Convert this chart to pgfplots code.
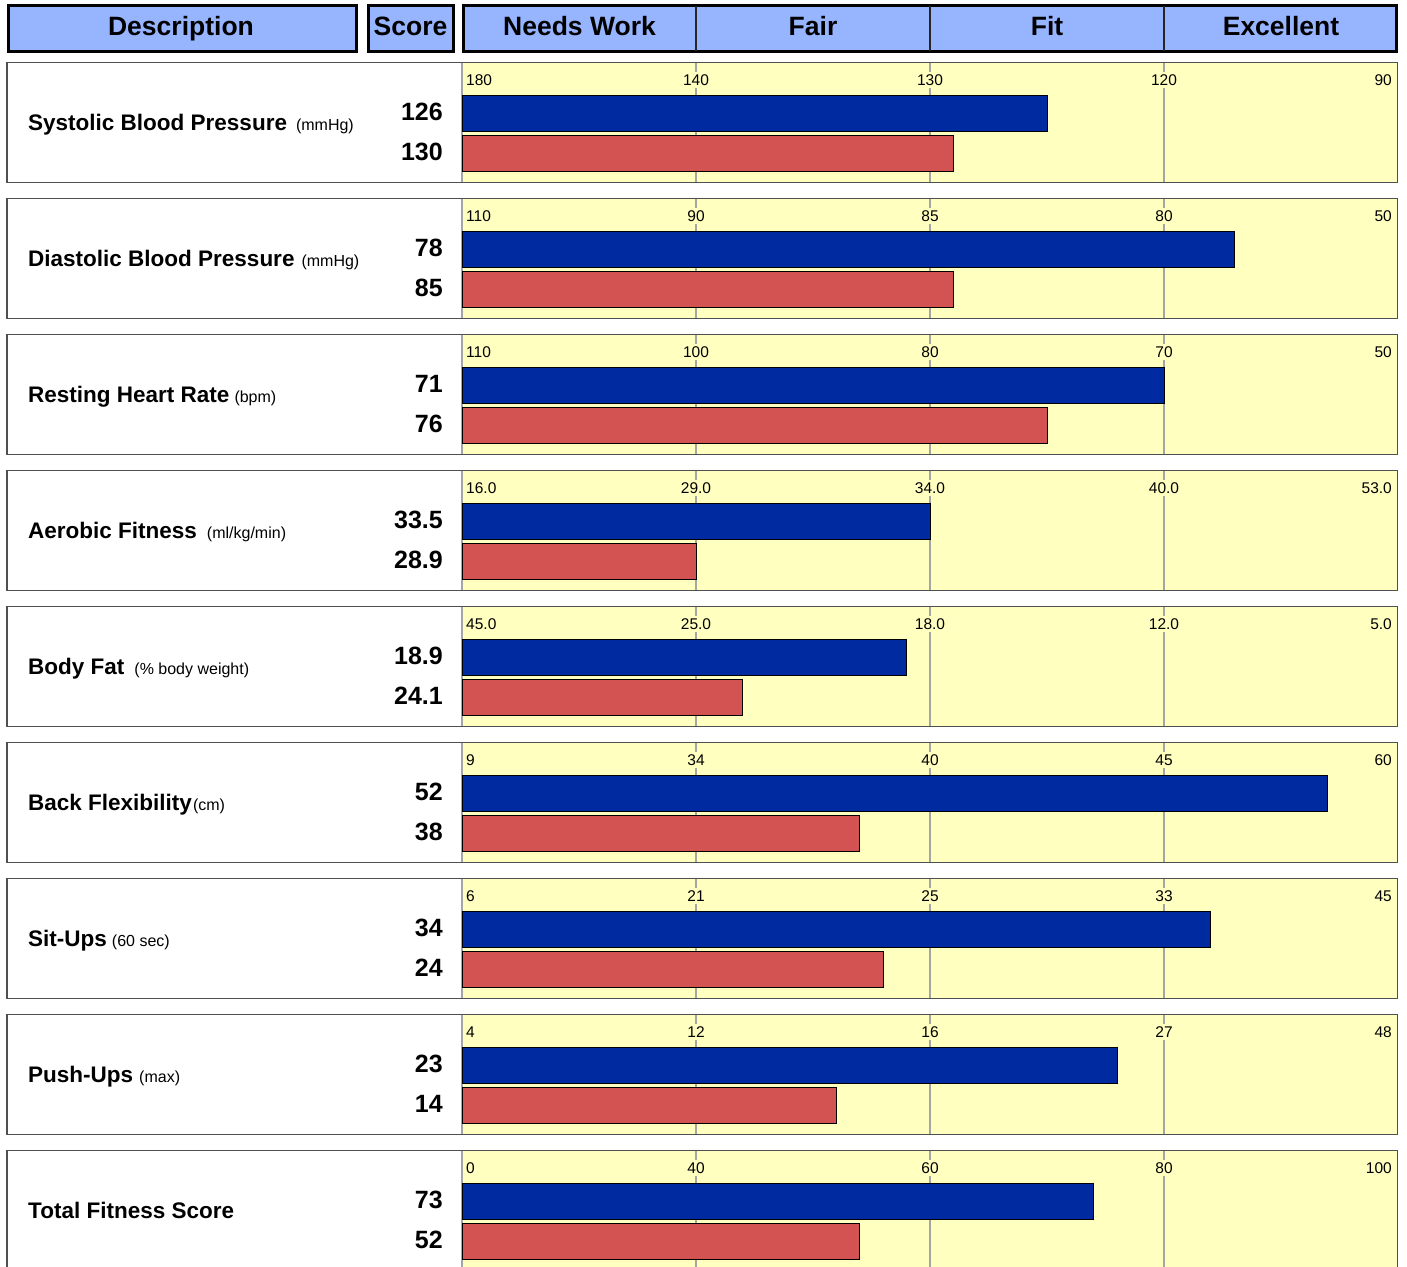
\documentclass[border=0pt]{standalone}
\usepackage{pgfplots}
\pgfplotsset{compat=1.18}
\usepackage{fontspec}
\setmainfont{Liberation Sans}
\definecolor{hdr}{RGB}{151,180,255}
\definecolor{yel}{RGB}{255,255,192}
\definecolor{bblue}{RGB}{0,42,160}
\definecolor{bred}{RGB}{211,83,83}
\definecolor{framec}{RGB}{80,80,80}
\definecolor{gridc}{RGB}{165,165,165}
\newcommand\hdrfont{\fontsize{26.5}{30}\selectfont\bfseries}
\newcommand\descfont{\fontsize{22.5}{26}\selectfont\bfseries}
\newcommand\unitfont{\fontsize{16}{18}\selectfont\mdseries}
\newcommand\scorefont{\fontsize{25}{29}\selectfont\bfseries}
\newcommand\tickfont{\fontsize{15.5}{18}\selectfont}
\pgfplotsset{panelaxis/.style={anchor=north west, scale only axis,
  width=936pt, height=119.5pt, xmin=0, xmax=4, ymin=0, ymax=119.5,
  axis background/.style={fill=yel}, axis line style={draw=none},
  xtick=\empty, ytick=\empty, major tick length=0pt, clip=false}}
\tikzset{tlab/.style={inner sep=1pt, font=\tickfont}}
\newcommand{\gridlines}{%
  \draw[gridc, line width=1.5pt] (axis cs:0,0) -- (axis cs:0,119.5);
  \draw[gridc, line width=1.5pt] (axis cs:1,0) -- (axis cs:1,94.5);
  \draw[gridc, line width=1.5pt] (axis cs:2,0) -- (axis cs:2,94.5);
  \draw[gridc, line width=1.5pt] (axis cs:3,0) -- (axis cs:3,94.5);
  \draw[gridc, line width=1.5pt] (axis cs:1,111) -- (axis cs:1,119.5);
  \draw[gridc, line width=1.5pt] (axis cs:2,111) -- (axis cs:2,119.5);
  \draw[gridc, line width=1.5pt] (axis cs:3,111) -- (axis cs:3,119.5);}
\newcommand{\ticklabs}[5]{%
  \node[tlab, anchor=base west, xshift=3pt] at (axis cs:0,97.5) {#1};
  \node[tlab, anchor=base] at (axis cs:1,97.5) {#2};
  \node[tlab, anchor=base] at (axis cs:2,97.5) {#3};
  \node[tlab, anchor=base] at (axis cs:3,97.5) {#4};
  \node[tlab, anchor=base east, xshift=-5pt] at (axis cs:4,97.5) {#5};}
% #1 index, #2 description, #3 gap, #4 unit, #5 score 1, #6 score 2, #7 blue bar, #8 red bar, #9 tick labels
\newcommand{\panel}[9]{%
  \pgfmathsetlengthmacro{\Ty}{-(63+136*#1)*1pt}%
  \begin{axis}[panelaxis, at={(462pt,\Ty)}]
    \gridlines
    \addplot[xbar, bar width=36, bar shift=0pt, fill=bblue, draw=black, line width=1pt] coordinates {(#7,69.5)};
    \addplot[xbar, bar width=36, bar shift=0pt, fill=bred, draw=black, line width=1pt] coordinates {(#8,29.5)};
    \ticklabs#9
  \end{axis}
  \begin{scope}[x=1pt,y=-1pt,yshift=\Ty]
    \draw[framec, line width=1.8pt] (7,-0.5) rectangle (1397.5,119.5);
    \node[anchor=base west, inner sep=0pt, font=\descfont] at (28,67) {#2#3{\unitfont #4}};
    \node[anchor=base east, inner sep=0pt, font=\scorefont] at (443,57.5) {#5};
    \node[anchor=base east, inner sep=0pt, font=\scorefont] at (443,97.5) {#6};
  \end{scope}}
\begin{document}
\begin{tikzpicture}
\useasboundingbox (0pt,0pt) rectangle (1407pt,-1266pt);
\clip (0pt,0pt) rectangle (1407pt,-1266pt);
\fill[white] (0pt,0pt) rectangle (1407pt,-1266pt);
\begin{scope}[x=1pt,y=-1pt]
  \draw[fill=hdr, line width=3pt] (8.5,5.5) rectangle (356.5,51.5);
  \draw[fill=hdr, line width=3pt] (368.5,5.5) rectangle (453.5,51.5);
  \draw[fill=hdr, line width=3pt] (463.5,5.5) rectangle (1396.5,51.5);
  \foreach \xx in {696,930,1164} \draw[line width=1.5pt, black!85] (\xx,6) -- (\xx,51);
  \node[anchor=base, inner sep=0pt, font=\hdrfont] at (181,35) {Description};
  \node[anchor=base, inner sep=0pt, font=\hdrfont] at (410.5,35) {Score};
  \node[anchor=base, inner sep=0pt, font=\hdrfont] at (579.5,35) {Needs Work};
  \node[anchor=base, inner sep=0pt, font=\hdrfont] at (813,35) {Fair};
  \node[anchor=base, inner sep=0pt, font=\hdrfont] at (1047,35) {Fit};
  \node[anchor=base, inner sep=0pt, font=\hdrfont] at (1281,35) {Excellent};
\end{scope}
\panel{0}{Systolic Blood Pressure}{\hspace{9pt}}{(mmHg)}{126}{130}{2.5}{2.1}{{180}{140}{130}{120}{90}}
\panel{1}{Diastolic Blood Pressure}{\hspace{7pt}}{(mmHg)}{78}{85}{3.3}{2.1}{{110}{90}{85}{80}{50}}
\panel{2}{Resting Heart Rate}{\hspace{5pt}}{(bpm)}{71}{76}{3.0}{2.5}{{110}{100}{80}{70}{50}}
\panel{3}{Aerobic Fitness}{\hspace{10pt}}{(ml/kg/min)}{33.5}{28.9}{2.0}{1.0}{{16.0}{29.0}{34.0}{40.0}{53.0}}
\panel{4}{Body Fat}{\hspace{10pt}}{(\% body weight)}{18.9}{24.1}{1.9}{1.2}{{45.0}{25.0}{18.0}{12.0}{5.0}}
\panel{5}{Back Flexibility}{\hspace{1pt}}{(cm)}{52}{38}{3.7}{1.7}{{9}{34}{40}{45}{60}}
\panel{6}{Sit-Ups}{\hspace{5pt}}{(60 sec)}{34}{24}{3.2}{1.8}{{6}{21}{25}{33}{45}}
\panel{7}{Push-Ups}{\hspace{6pt}}{(max)}{23}{14}{2.8}{1.6}{{4}{12}{16}{27}{48}}
\panel{8}{Total Fitness Score}{}{}{73}{52}{2.7}{1.7}{{0}{40}{60}{80}{100}}
\end{tikzpicture}
\end{document}
